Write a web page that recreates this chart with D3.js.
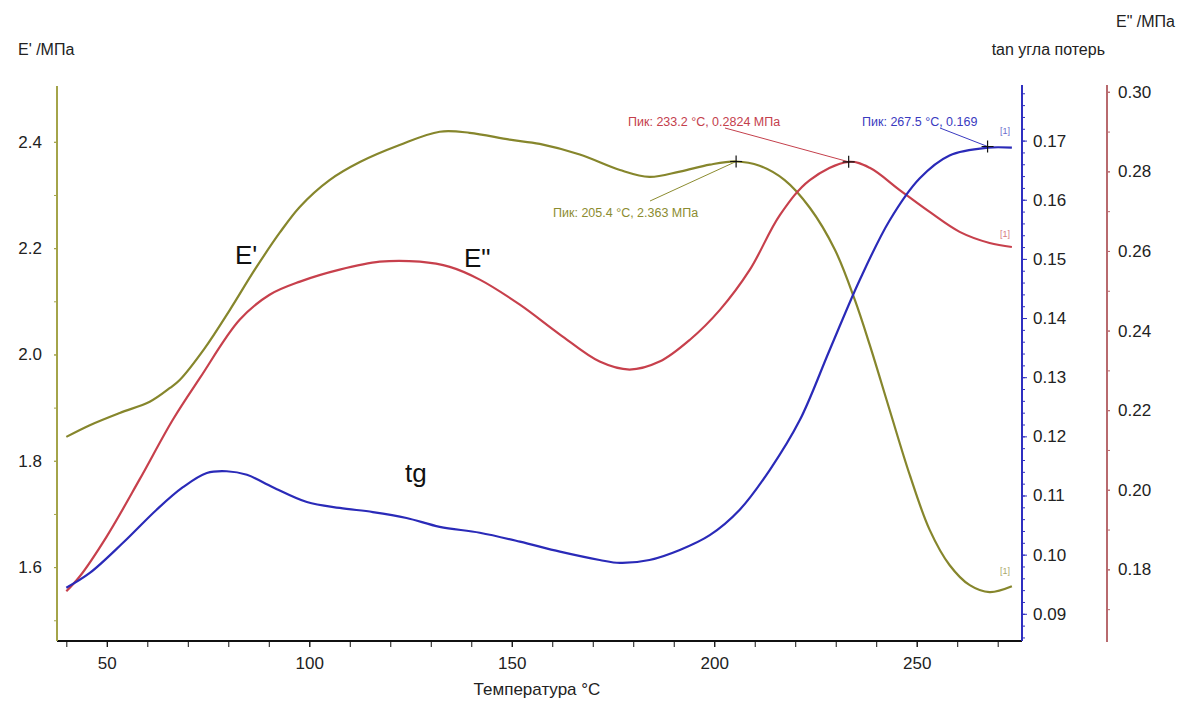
<!DOCTYPE html>
<html lang="ru">
<head>
<meta charset="UTF-8">
<title>DMA</title>
<style>
  body { margin: 0; background: #fff; }
  svg { display: block; font-family: "Liberation Sans", Arial, sans-serif; }
  .tick text { font-size: 17px; fill: #222; }
</style>
</head>
<body>
<svg id="chart" width="1177" height="706"></svg>
<script src="https://d3js.org/d3.v7.min.js"></script>
<script>
// --- data ---
const storageT = [40, 45.8, 53.2, 60.6, 65.6, 68, 74.2, 80.4, 86.5, 92.7, 97.7, 105, 112.5, 122.3, 132.2, 139.6, 149.5, 156.9, 166.8, 176.7, 184, 191.5, 198.9, 205.4, 211.2, 217.4, 223.6, 229.8, 234.7, 238.4, 243.3, 248.3, 253.2, 258.1, 263.1, 268, 273.5];
const storageE = [1.845, 1.867, 1.890, 1.911, 1.937, 1.952, 2.012, 2.084, 2.159, 2.229, 2.278, 2.328, 2.362, 2.394, 2.419, 2.417, 2.404, 2.396, 2.376, 2.347, 2.334, 2.344, 2.357, 2.363, 2.355, 2.328, 2.276, 2.197, 2.103, 2.018, 1.896, 1.773, 1.670, 1.604, 1.566, 1.553, 1.564];

const lossT = [40, 43.3, 50, 58.1, 66.3, 73, 82.8, 90.2, 97.7, 107.5, 117.4, 127.3, 134.7, 142.1, 152, 161.9, 171.7, 179.1, 186.5, 194, 201.4, 208.8, 216.2, 223.6, 233.2, 238.4, 245.8, 253.2, 260.6, 268, 273.5];
const lossE = [0.1745, 0.1782, 0.1883, 0.2026, 0.2176, 0.2281, 0.2427, 0.2490, 0.2523, 0.2553, 0.2573, 0.2573, 0.2560, 0.2528, 0.2465, 0.2390, 0.2322, 0.2302, 0.2322, 0.2377, 0.2452, 0.2553, 0.2690, 0.2778, 0.2824, 0.2809, 0.2753, 0.2698, 0.2648, 0.2620, 0.2610];

const tanT = [40, 45.8, 54, 62.3, 68.8, 74.7, 79.6, 84.6, 91, 99.4, 107.5, 115.7, 124, 132.2, 142.1, 152, 161.9, 171.7, 176.7, 184, 191.5, 198.9, 206.3, 213.7, 221.1, 228.5, 235.9, 243.3, 250.7, 258.1, 267.5, 273.5];
const tanD = [0.0944, 0.0969, 0.1020, 0.1076, 0.1114, 0.1138, 0.1141, 0.1135, 0.1114, 0.1089, 0.1079, 0.1072, 0.1062, 0.1047, 0.1037, 0.1022, 0.1005, 0.0991, 0.0986, 0.0991, 0.1008, 0.1033, 0.1076, 0.1143, 0.1227, 0.1346, 0.1464, 0.1565, 0.1636, 0.1675, 0.1688, 0.1688];

const xTicks = [50, 100, 150, 200, 250];
const leftTicks = [1.6, 1.8, 2.0, 2.2, 2.4];
const blueTicks = [0.09, 0.10, 0.11, 0.12, 0.13, 0.14, 0.15, 0.16, 0.17];
const redTicks = [0.18, 0.20, 0.22, 0.24, 0.26, 0.28, 0.30];

const peakOlive = {t: 205.4, v: 2.363, text: "Пик: 205.4 °C, 2.363 МПа"};
const peakRed = {t: 233.2, v: 0.2824, text: "Пик: 233.2 °C, 0.2824 МПа"};
const peakBlue = {t: 267.5, v: 0.169, text: "Пик: 267.5 °C, 0.169"};

// colours
const cOlive = "#86862c", cOliveAxis = "#a4a44a";
const cRed = "#c7404c", cRedAxis = "#b86a6e";
const cBlue = "#2a2ab8", cBlueAxis = "#2f2fc0";

const svg = d3.select("#chart");

// scales
const x = d3.scaleLinear().domain([37.7, 276]).range([57, 1022]);
const yL = d3.scaleLinear().domain([1.461, 2.505]).range([641, 86]);
const yB = d3.scaleLinear().domain([0.0854, 0.1794]).range([641, 85]);
const yR = d3.scaleLinear().domain([0.1620, 0.3017]).range([641, 85]);

// --- axes ---
function styleAxis(g, color) {
    g.select(".domain").attr("stroke", color).attr("stroke-width", 2);
    g.selectAll(".tick line").attr("stroke", color);
}

// x axis: minor ticks every 10, majors labelled
const xMinor = d3.range(40, 276, 10);
svg.append("g")
    .attr("transform", "translate(0,641)")
    .call(d3.axisBottom(x).tickValues(xMinor).tickSize(6).tickFormat(""))
    .call(g => styleAxis(g, "#111"))
    .call(g => g.select(".domain").attr("d", "M57,0H1022"));
svg.append("g")
    .attr("transform", "translate(0,641)")
    .call(d3.axisBottom(x).tickValues(xTicks).tickSize(6).tickPadding(10))
    .call(g => g.select(".domain").remove())
    .call(g => g.selectAll(".tick line").attr("stroke", "#111"));

// left axis (E')
svg.append("g")
    .attr("transform", "translate(57,0)")
    .call(d3.axisLeft(yL).tickValues(d3.range(1.5, 2.45, 0.1)).tickSize(3).tickFormat(""))
    .call(g => styleAxis(g, cOliveAxis))
    .call(g => g.select(".domain").attr("d", "M0,86V641"));
svg.append("g")
    .attr("transform", "translate(57,0)")
    .call(d3.axisLeft(yL).tickValues(leftTicks).tickSize(3).tickPadding(12).tickFormat(d3.format(".1f")))
    .call(g => g.select(".domain").remove())
    .call(g => g.selectAll(".tick line").attr("stroke", cOliveAxis));

// blue axis (tan)
svg.append("g")
    .attr("transform", "translate(1022,0)")
    .call(d3.axisRight(yB).tickValues(d3.range(0.086, 0.1791, 0.002)).tickSize(3).tickFormat(""))
    .call(g => styleAxis(g, cBlueAxis))
    .call(g => g.select(".domain").attr("d", "M0,85V641"));
svg.append("g")
    .attr("transform", "translate(1022,0)")
    .call(d3.axisRight(yB).tickValues(blueTicks).tickSize(5).tickPadding(6).tickFormat(d3.format(".2f")))
    .call(g => g.select(".domain").remove())
    .call(g => g.selectAll(".tick line").attr("stroke", cBlueAxis));

// red axis (E'')
svg.append("g")
    .attr("transform", "translate(1107,0)")
    .call(d3.axisRight(yR).tickValues(d3.range(0.17, 0.3005, 0.01)).tickSize(3).tickFormat(""))
    .call(g => styleAxis(g, cRedAxis))
    .call(g => g.select(".domain").attr("d", "M0,85V642"));
svg.append("g")
    .attr("transform", "translate(1107,0)")
    .call(d3.axisRight(yR).tickValues(redTicks).tickSize(3).tickPadding(8).tickFormat(d3.format(".2f")))
    .call(g => g.select(".domain").remove())
    .call(g => g.selectAll(".tick line").attr("stroke", cRedAxis));

// axis titles
svg.append("text").attr("x", 18).attr("y", 55).attr("font-size", 16).attr("fill", "#222").text("E' /МПа");
svg.append("text").attr("x", 1175).attr("y", 27).attr("font-size", 16).attr("fill", "#222").attr("text-anchor", "end").text("E\" /МПа");
svg.append("text").attr("x", 1105).attr("y", 55).attr("font-size", 16).attr("fill", "#222").attr("text-anchor", "end").text("tan угла потерь");
svg.append("text").attr("x", 537).attr("y", 695).attr("font-size", 17).attr("fill", "#222").attr("text-anchor", "middle").text("Температура  °C");

// --- curves ---
function drawCurve(ts, vs, y, color) {
    const pts = ts.map((t, i) => [t, vs[i]]);
    const line = d3.line().x(d => x(d[0])).y(d => y(d[1])).curve(d3.curveCatmullRom.alpha(0.5));
    svg.append("path").datum(pts)
        .attr("d", line)
        .attr("fill", "none")
        .attr("stroke", color)
        .attr("stroke-width", 2.2);
}
drawCurve(storageT, storageE, yL, cOlive);
drawCurve(lossT, lossE, yR, cRed);
drawCurve(tanT, tanD, yB, cBlue);

// --- peak annotations ---
function peak(p, y, color, lx, ly, ax, ay) {
    const px = x(p.t), py = y(p.v);
    svg.append("line").attr("x1", ax).attr("y1", ay).attr("x2", px).attr("y2", py)
        .attr("stroke", color).attr("stroke-width", 1);
    svg.append("path").attr("d", `M${px - 6},${py}H${px + 6}M${px},${py - 6}V${py + 6}`)
        .attr("stroke", "#111").attr("stroke-width", 1.2);
    svg.append("text").attr("x", lx).attr("y", ly).attr("font-size", 12.5)
        .attr("fill", color).text(p.text);
}
peak(peakOlive, yL, "#8c8c30", 553, 217, 650, 201);
peak(peakRed, yR, "#c4404c", 628, 126, 725, 128);
peak(peakBlue, yB, "#3a3ac0", 862, 126, 940, 128);

// "[1]" end markers
const endTags = [
    {t: tanT[tanT.length - 1], v: tanD[tanD.length - 1], y: yB, color: cBlue, dy: -14},
    {t: lossT[lossT.length - 1], v: lossE[lossE.length - 1], y: yR, color: cRed, dy: -10},
    {t: storageT[storageT.length - 1], v: storageE[storageE.length - 1], y: yL, color: cOlive, dy: -12}
];
endTags.forEach(d => {
    svg.append("text").attr("x", x(d.t) - 12).attr("y", d.y(d.v) + d.dy)
        .attr("font-size", 9).attr("fill", d.color).attr("opacity", 0.7).text("[1]");
});

// big curve labels
svg.append("text").attr("x", 235).attr("y", 264).attr("font-size", 26).attr("fill", "#111").text("E'");
svg.append("text").attr("x", 464).attr("y", 267).attr("font-size", 26).attr("fill", "#111").text("E\"");
svg.append("text").attr("x", 405).attr("y", 482).attr("font-size", 26).attr("fill", "#111").text("tg");
</script>
</body>
</html>
